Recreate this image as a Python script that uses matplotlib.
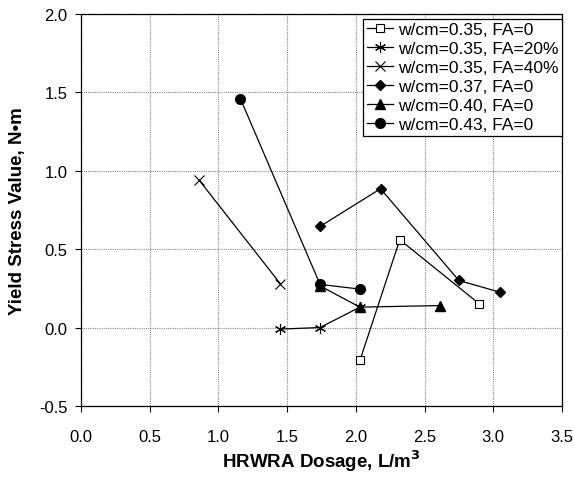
import numpy as np
import matplotlib.pyplot as plt

plt.rcParams['font.family'] = ['Liberation Sans', 'DejaVu Sans']

# data
x_035_0 = [2.03, 2.32, 2.90]
y_035_0 = [-0.21, 0.56, 0.15]
x_035_20 = [1.45, 1.74, 2.03]
y_035_20 = [-0.01, 0.00, 0.13]
x_035_40 = [0.86, 1.45]
y_035_40 = [0.94, 0.28]
x_037_0 = [1.74, 2.18, 2.75, 3.05]
y_037_0 = [0.645, 0.885, 0.30, 0.225]
x_040_0 = [1.74, 2.03, 2.61]
y_040_0 = [0.265, 0.13, 0.14]
x_043_0 = [1.16, 1.74, 2.03]
y_043_0 = [1.46, 0.275, 0.245]

labels = ["w/cm=0.35, FA=0", "w/cm=0.35, FA=20%", "w/cm=0.35, FA=40%",
          "w/cm=0.37, FA=0", "w/cm=0.40, FA=0", "w/cm=0.43, FA=0"]

fig = plt.figure(figsize=(5.74, 4.81), dpi=100)
ax = fig.add_axes([0.141, 0.154, 0.838, 0.815])

lw = 0.9
ax.plot(x_035_0, y_035_0, 'k-', lw=lw, marker='s', ms=6, mfc='white', mec='k', mew=0.8, label=labels[0])
ax.plot(x_035_20, y_035_20, 'k-', lw=lw, marker=(6, 2, 0), ms=8, mew=0.8, label=labels[1])
ax.plot(x_035_40, y_035_40, 'k-', lw=lw, marker='x', ms=7, mew=0.8, label=labels[2])
ax.plot(x_037_0, y_037_0, 'k-', lw=lw, marker='D', ms=5, label=labels[3])
ax.plot(x_040_0, y_040_0, 'k-', lw=lw, marker='^', ms=7, label=labels[4])
ax.plot(x_043_0, y_043_0, 'k-', lw=lw, marker='o', ms=7, label=labels[5])

ax.set_xlim(0, 3.5)
ax.set_ylim(-0.5, 2.0)
ax.set_xticks(np.arange(0, 3.51, 0.5))
ax.set_yticks(np.arange(-0.5, 2.01, 0.5))
ax.set_xticklabels(["%.1f" % v for v in np.arange(0, 3.51, 0.5)])
ax.set_yticklabels(["%.1f" % v for v in np.arange(-0.5, 2.01, 0.5)])
ax.tick_params(labelsize=12, direction='out', length=4.3, width=0.8)
ax.tick_params(axis='x', pad=12)
ax.tick_params(axis='y', pad=5.5)
ax.grid(True, color='#888888', linestyle=(0, (1, 1)), linewidth=0.8)
ax.set_axisbelow(True)
for s in ax.spines.values():
    s.set_linewidth(0.9)

ax.set_xlabel("HRWRA Dosage, L/m$^\\mathbf{3}$", fontsize=13.5, fontweight='bold', labelpad=3)
ax.set_ylabel("Yield Stress Value, N\u2022m", fontsize=13.5, fontweight='bold', labelpad=9)

leg = ax.legend(loc='upper right', bbox_to_anchor=(1.0, 0.988), fontsize=12.5,
                frameon=True, fancybox=False, edgecolor='black', framealpha=1,
                borderaxespad=0, labelspacing=0.22, handlelength=1.5,
                handletextpad=0.3, borderpad=0.2)
leg.get_frame().set_linewidth(0.9)

fig.savefig("out.png", dpi=100)
